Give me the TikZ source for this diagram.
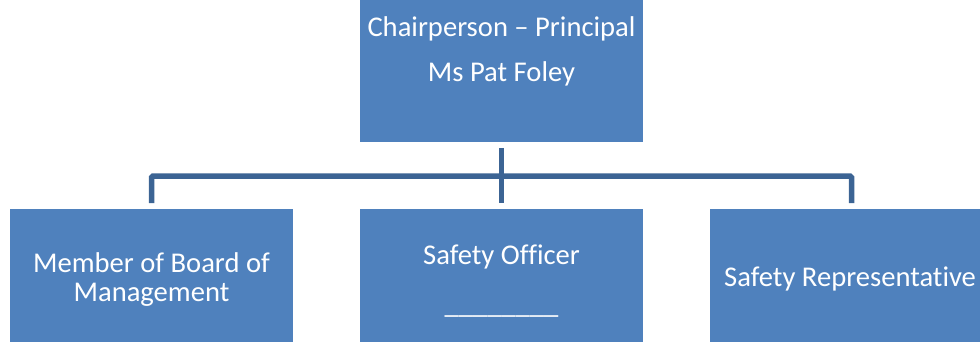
\documentclass[tikz,border=0pt]{standalone}
\usepackage{fontspec}
\setmainfont{Carlito}[RawFeature={-liga}]
\definecolor{boxfill}{HTML}{4F81BD}
\definecolor{connblue}{HTML}{3C6494}
\begin{document}
\begin{tikzpicture}[x=1pt,y=-1pt,
  orgbox/.style={draw=none,fill=boxfill,minimum width=283pt,inner sep=0pt,outer sep=0pt},
  conn/.style={draw=connblue,line width=5.5pt,rounded corners=1.5pt},
  txt/.style={text=white,font=\fontsize{28.6}{34}\selectfont,inner sep=0pt,anchor=base}]
\useasboundingbox (0,0) rectangle (980,342);
\clip (0,0) rectangle (980,342);
\node[orgbox,minimum height=142pt] (top) at (501.5,71) {};
\node[orgbox,minimum height=133pt] (l) at (151.5,275.5) {};
\node[orgbox,minimum height=133pt] (m) at (501.5,275.5) {};
\node[orgbox,minimum height=133pt] (r) at (851.5,275.5) {};
\coordinate (bus) at (0,176);
\draw[conn] ([yshift=6pt]l.north) -- (l.north |- bus) -- (r.north |- bus) -- ([yshift=6pt]r.north);
\draw[conn] ([yshift=-6pt]top.south) -- ([yshift=6pt]m.north);
\node[txt] (t1) at (501.5,37) {Chairperson – Principal};
\node[txt] (t2) at (501.5,82) {Ms Pat Foley};
\node[txt] (l1) at (151.5,272) {Member of Board of};
\node[txt] (l2) at (151.5,301) {Management};
\node[txt] (m1) at (501.5,264) {Safety Officer};
\node[txt] (m2) at (501.5,313) {\_\_\_\_\_\_\_\_};
\node[txt,anchor=base west] (r1) at (724,286) {Safety Representative};
\end{tikzpicture}
\end{document}
